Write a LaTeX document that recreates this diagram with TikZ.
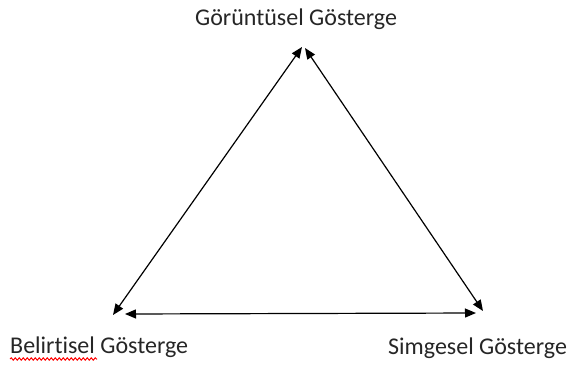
\documentclass[tikz,border=0pt]{standalone}
\usepackage{fontspec}
\setmainfont{Carlito}[Ligatures={NoCommon,NoContextual}]
\usetikzlibrary{arrows.meta,decorations.pathmorphing}
\begin{document}
\begin{tikzpicture}[x=1pt,y=-1pt,
  lbl/.style={inner sep=0pt,anchor=base west,font=\fontsize{24}{28}\selectfont,text=black!85},
  conn/.style={line width=1.2pt,{Triangle[length=11pt,width=9pt]}-{Triangle[length=11pt,width=9pt]}}]
\useasboundingbox (0,0) rectangle (571,368);
\node[lbl] (top) at (195,25) {Görüntüsel Gösterge};
\node[lbl] (bl) at (10,353) {Belirtisel Gösterge};
\node[lbl] (br) at (388,354) {Simgesel Gösterge};
\coordinate (t1) at (302,47);
\coordinate (t2) at (305,48);
\coordinate (l1) at (113,315);
\coordinate (l2) at (125,314);
\coordinate (r1) at (483,311);
\coordinate (r2) at (476,313);
\draw[conn] (l1) -- (t1);
\draw[conn] (t2) -- (r1);
\draw[conn] (l2) -- (r2);
\draw[red,line width=1pt,decorate,decoration={snake,amplitude=1.2pt,segment length=4pt}] (10,359) -- (97,359);
\end{tikzpicture}
\end{document}
